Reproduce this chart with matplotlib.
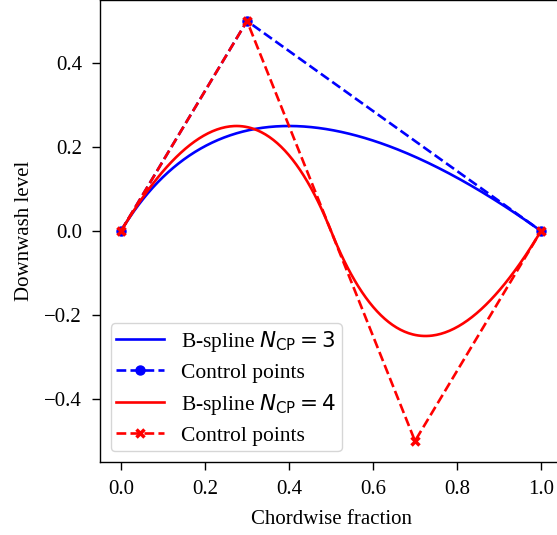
import matplotlib
matplotlib.use("Agg")
import matplotlib.pyplot as plt
import numpy as np

plt.rcParams["font.family"] = ["Liberation Serif", "DejaVu Serif"]
plt.rcParams["font.size"] = 15
plt.rcParams["axes.linewidth"] = 1.0
plt.rcParams["xtick.major.size"] = 6
plt.rcParams["ytick.major.size"] = 6
plt.rcParams["xtick.major.width"] = 1.0
plt.rcParams["ytick.major.width"] = 1.0
plt.rcParams["xtick.major.pad"] = 7
plt.rcParams["ytick.major.pad"] = 7

# control points
cp3_x = [0.0, 0.3, 1.0]
cp3_y = [0.0, 0.5, 0.0]
cp4_x = [0.0, 0.3, 0.7, 1.0]
cp4_y = [0.0, 0.5, -0.5, 0.0]
degree = 2


def basis(i, k, t, knots):
    # Cox-de Boor recursion
    if k == 0:
        if knots[i] <= t < knots[i + 1] or (t == knots[-1] and knots[i] < t <= knots[i + 1]):
            return 1.0
        return 0.0
    out = 0.0
    d1 = knots[i + k] - knots[i]
    d2 = knots[i + k + 1] - knots[i + 1]
    if d1 > 0:
        out += (t - knots[i]) / d1 * basis(i, k - 1, t, knots)
    if d2 > 0:
        out += (knots[i + k + 1] - t) / d2 * basis(i + 1, k - 1, t, knots)
    return out


def bspline(px, py, k, n=300):
    m = len(px)
    inner = np.linspace(0, 1, m - k + 1)[1:-1]
    knots = np.concatenate([np.zeros(k + 1), inner, np.ones(k + 1)])
    ts = np.linspace(0, 1, n)
    xs, ys = [], []
    for t in ts:
        b = [basis(i, k, t, knots) for i in range(m)]
        xs.append(np.dot(b, px))
        ys.append(np.dot(b, py))
    return xs, ys


fig = plt.figure(figsize=(5.57, 5.35), dpi=100)
ax = fig.add_axes([100 / 557, 73 / 535, 462 / 557, 462 / 535])

x3, y3 = bspline(cp3_x, cp3_y, degree)
x4, y4 = bspline(cp4_x, cp4_y, degree)

lw = 1.9
ax.plot(x3, y3, color="blue", lw=lw, label=r"B-spline $N_{\rm CP} = 3$")
ax.plot(cp3_x, cp3_y, "--o", color="blue", lw=lw, ms=6.5, label="Control points")
ax.plot(x4, y4, color="red", lw=lw, label=r"B-spline $N_{\rm CP} = 4$")
ax.plot(cp4_x, cp4_y, "--x", color="red", lw=lw, ms=6, mew=2.5, label="Control points")

ax.set_xlabel("Chordwise fraction", labelpad=8)
ax.set_ylabel("Downwash level", labelpad=7)
ax.set_xticks([0.0, 0.2, 0.4, 0.6, 0.8, 1.0])
ax.set_yticks([-0.4, -0.2, 0.0, 0.2, 0.4])
ax.legend(loc="lower left", fontsize=15.5, handlelength=2.2, borderpad=0.25,
          labelspacing=0.42, borderaxespad=0.5)

fig.savefig("out.png", dpi=100)
